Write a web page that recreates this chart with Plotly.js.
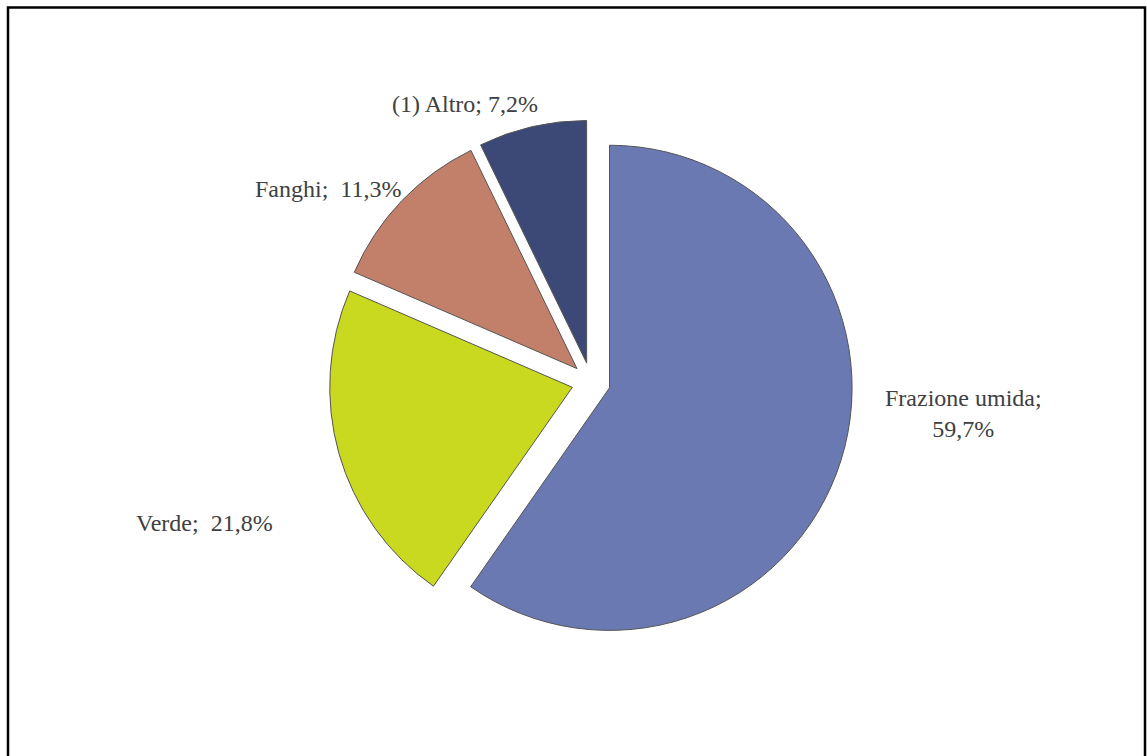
<!DOCTYPE html>
<html>
<head>
<meta charset="utf-8">
<script src="https://cdn.plot.ly/plotly-3.0.1.min.js"></script>
<style>html,body{margin:0;padding:0;background:#fff;}#chart{width:1147px;height:756px;}</style>
</head>
<body>
<div id="chart"></div>
<script>
// Data
const labels = ["Frazione umida", "Verde", "Fanghi", "(1) Altro"];
const values = [59.7, 21.8, 11.3, 7.2];
const colors = ["#6a79b1", "#c9d91f", "#c27f69", "#3c4977"];

function fmt(v) { return v.toFixed(1).replace('.', ',') + '%'; }

// label positions (pixels) and separators
const labelPos = [
  {x: 963, y: 413, sep: ';<br>'},
  {x: 205, y: 523, sep: ';  '},
  {x: 328, y: 189, sep: ';  '},
  {x: 465, y: 104, sep: '; '}
];
const W = 1147, H = 756;

const annotations = labels.map((l, i) => ({
  xref: 'paper', yref: 'paper',
  x: labelPos[i].x / W, y: 1 - labelPos[i].y / H,
  xanchor: 'center', yanchor: 'middle',
  text: l + labelPos[i].sep + fmt(values[i]),
  showarrow: false,
  align: 'center',
  font: {family: 'Liberation Serif, Times New Roman, serif', size: 24, color: '#404040'}
}));

const cx = 591, cy = 382, half = 262;
const trace = {
  type: 'pie',
  labels: labels,
  values: values,
  sort: false,
  direction: 'clockwise',
  rotation: 0,
  pull: [0.08, 0.08, 0.08, 0.08],
  textinfo: 'none',
  hoverinfo: 'label+percent',
  marker: {colors: colors, line: {color: '#555555', width: 1}},
  domain: {x: [(cx - half) / W, (cx + half) / W], y: [1 - (cy + half) / H, 1 - (cy - half) / H]},
  showlegend: false
};

const layout = {
  width: W, height: H,
  margin: {l: 0, r: 0, t: 0, b: 0},
  paper_bgcolor: '#ffffff',
  showlegend: false,
  annotations: annotations,
  shapes: [{
    type: 'rect', xref: 'paper', yref: 'paper',
    x0: 8 / W, x1: 1145 / W, y0: -0.05, y1: 1 - 7.5 / H,
    line: {color: '#000000', width: 2.5}
  }]
};

Plotly.newPlot('chart', [trace], layout, {displayModeBar: false, staticPlot: true});
</script>
</body>
</html>
